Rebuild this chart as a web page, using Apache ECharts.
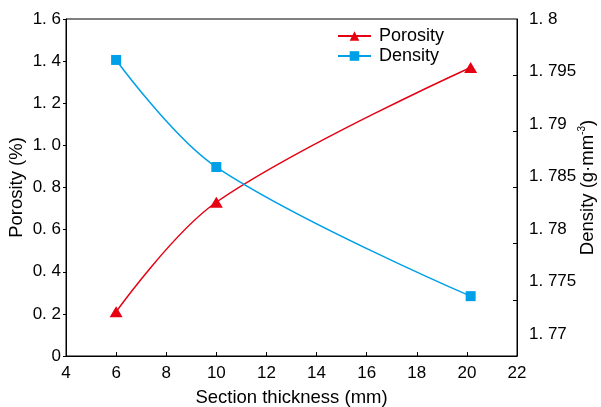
<!DOCTYPE html>
<html>
<head>
<meta charset="utf-8">
<script src="https://cdn.jsdelivr.net/npm/echarts@6/dist/echarts.min.js"></script>
<style>
html,body{margin:0;padding:0;background:#fff;}
#chart{width:601px;height:407px;}
</style>
</head>
<body>
<div id="chart"></div>
<script>
// ---- data ----
var thickness = [6, 10, 20.15];
var porosity = [0.21, 0.73, 1.37];
var density = [1.7961, 1.7859, 1.7736];
var xTicks = [4, 6, 8, 10, 12, 14, 16, 18, 20, 22];
var leftTickValues = [0, 0.2, 0.4, 0.6, 0.8, 1.0, 1.2, 1.4, 1.6];
var leftTickLabels = ['0', '0. 2', '0. 4', '0. 6', '0. 8', '1. 0', '1. 2', '1. 4', '1. 6'];
var rightTickValues = [1.77, 1.775, 1.78, 1.785, 1.79, 1.795, 1.8];
var rightTickLabels = ['1. 77', '1. 775', '1. 78', '1. 785', '1. 79', '1. 795', '1. 8'];
var rightMin = 1.7679, rightMax = 1.8;

var FONT = 'Liberation Sans, Arial, sans-serif';
var RED = '#E60012', BLUE = '#00A0E9';

function labelFor(values, labels) {
  return function (v) {
    for (var i = 0; i < values.length; i++) {
      if (Math.abs(values[i] - v) < 1e-6) return labels[i];
    }
    return '';
  };
}
// right-axis tick marks: 6 equal divisions of the axis range
var rightTickMarks = [];
for (var k = 1; k < 6; k++) rightTickMarks.push(rightMax - k * (rightMax - rightMin) / 6);

var chart = echarts.init(document.getElementById('chart'));
chart.setOption({
  animation: false,
  backgroundColor: '#fff',
  textStyle: { fontFamily: FONT, color: '#000' },
  grid: { left: 66, right: 84, top: 19, bottom: 51, show: true, borderColor: '#000', borderWidth: 1, containLabel: false, outerBoundsMode: 'none' },
  legend: {
    orient: 'vertical', left: 332, top: 22,
    itemWidth: 33, itemHeight: 12, itemGap: 2,
    textStyle: { fontSize: 18, color: '#000', fontFamily: FONT, padding: [0, 0, 0, 3] },
    data: ['Porosity', 'Density']
  },
  xAxis: {
    type: 'value', min: 4, max: 22, interval: 2,
    name: 'Section thickness (mm)', nameLocation: 'middle', nameGap: 32, nameMoveOverlap: false,
    nameTextStyle: { fontSize: 18.5, color: '#000' },
    axisLine: { lineStyle: { color: '#000', width: 1 } },
    axisTick: { inside: true, length: 4, lineStyle: { color: '#000' } },
    axisLabel: { fontSize: 17, color: '#000', margin: 9, showMinLabel: true, showMaxLabel: true },
    splitLine: { show: false }
  },
  yAxis: [{
    type: 'value', min: 0, max: 1.6, interval: 0.2, position: 'left',
    name: 'Porosity (%)', nameLocation: 'middle', nameGap: 40, nameRotate: 90, nameMoveOverlap: false,
    nameTextStyle: { fontSize: 18.5, color: '#000' },
    axisLine: { show: true, lineStyle: { color: '#000', width: 1 } },
    axisTick: { inside: false, length: 3, lineStyle: { color: '#000' } },
    axisLabel: { fontSize: 17, color: '#000', margin: 5, formatter: labelFor(leftTickValues, leftTickLabels) },
    splitLine: { show: false }
  }, {
    type: 'value', min: rightMin, max: rightMax, position: 'right',
    name: '{n|Density (g·mm}{sup|-3}{n|)}', nameLocation: 'middle', nameGap: 60, nameRotate: 90, nameMoveOverlap: false,
    nameTextStyle: {
      fontSize: 18.5, color: '#000',
      rich: {
        n: { fontSize: 18.5, lineHeight: 22, color: '#000', fontFamily: FONT },
        sup: { fontSize: 10, lineHeight: 12, verticalAlign: 'top', color: '#000', fontFamily: FONT }
      }
    },
    axisLine: { show: true, lineStyle: { color: '#000', width: 1 } },
    axisTick: { inside: true, length: 4, lineStyle: { color: '#000' }, customValues: rightTickMarks },
    axisLabel: { fontSize: 17, color: '#000', margin: 12, customValues: rightTickValues, formatter: labelFor(rightTickValues, rightTickLabels) },
    splitLine: { show: false }
  }],
  series: [{
    name: 'Porosity', type: 'line', yAxisIndex: 0,
    data: thickness.map(function (x, i) { return [x, porosity[i]]; }),
    smooth: 0.35,
    symbol: 'triangle', symbolSize: [13, 11],
    lineStyle: { color: RED, width: 1.5 },
    itemStyle: { color: RED }
  }, {
    name: 'Density', type: 'line', yAxisIndex: 1,
    data: thickness.map(function (x, i) { return [x, density[i]]; }),
    smooth: 0.35,
    symbol: 'rect', symbolSize: 10,
    lineStyle: { color: BLUE, width: 1.5 },
    itemStyle: { color: BLUE }
  }]
});
</script>
</body>
</html>
